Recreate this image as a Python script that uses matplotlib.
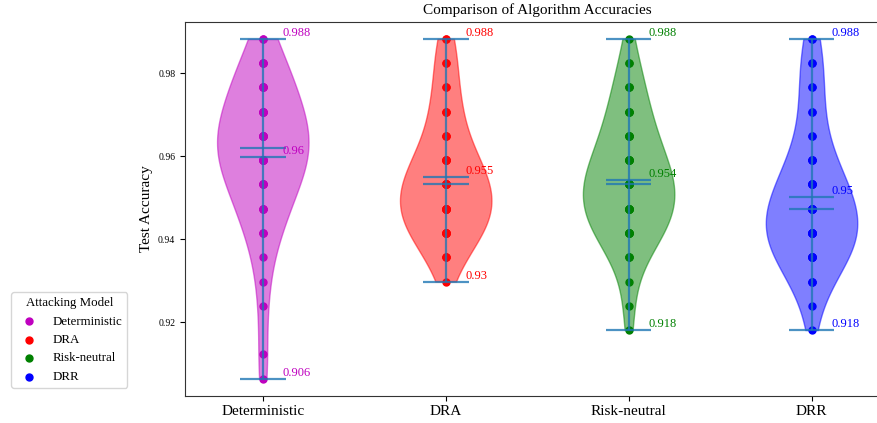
import numpy as np
import matplotlib
matplotlib.use("Agg")
import matplotlib.pyplot as plt

# ---- test set size and the correct-prediction counts that show up as dots
n_test = 171
n_correct = [155, 156, 157, 158, 159, 160, 161, 162, 163, 164, 165, 166, 167, 168, 169]

runs_det = [1, 1, 0, 1, 1, 1, 3, 4, 5, 8, 8, 6, 5, 4, 2]
runs_dra = [0, 0, 0, 0, 1, 3, 7, 9, 8, 6, 3, 3, 2, 2, 2]
runs_rn = [0, 0, 1, 1, 1, 3, 7, 9, 9, 7, 5, 4, 3, 2, 1]
runs_drr = [0, 0, 1, 1, 3, 7, 9, 8, 6, 4, 2, 2, 2, 2, 2]

models = ["Deterministic", "DRA", "Risk-neutral", "DRR"]
colors = ["m", "r", "g", "b"]

plt.rcParams["font.family"] = ["Liberation Serif", "DejaVu Serif"]

acc_levels = np.array(n_correct) / n_test
data = [np.repeat(acc_levels, r) for r in (runs_det, runs_dra, runs_rn, runs_drr)]
pos = np.arange(1, len(models) + 1)

fig = plt.figure(figsize=(8.77, 4.23), dpi=100)
ax = fig.add_axes([0.211, 0.065, 0.803, 0.883])

for p, d, c, name in zip(pos, data, colors, models):
    ax.scatter(np.full(len(d), p), d, color=c, s=25, label=name)

vp = ax.violinplot(data, positions=pos, showmeans=True, showmedians=True,
                   showextrema=True)
for body, c in zip(vp["bodies"], colors):
    body.set_facecolor(c)
    body.set_edgecolor(c)
    body.set_alpha(0.5)
for key in ["cbars", "cmins", "cmaxes", "cmeans", "cmedians"]:
    vp[key].set_color("C0")
    vp[key].set_alpha(0.8)
    vp[key].set_linewidth(1.6)

# ---- max, min and mean labels
for p, d, c in zip(pos, data, colors):
    for v in [d.max(), d.min(), d.mean()]:
        ax.text(p + 0.11, v, str(round(v, 3)), color=c, fontsize=9,
                ha="left", va="bottom")

ax.set_xticks(pos)
ax.set_xticklabels(models, fontsize=11)
ax.tick_params(axis="y", labelsize=7)
ax.set_ylabel("Test Accuracy", fontsize=11)
ax.set_title("Comparison of Algorithm Accuracies", fontsize=11)
for s in ax.spines.values():
    s.set_color("0.2")

ax.legend(title="Attacking Model", loc="lower right",
          bbox_to_anchor=(-0.082, 0.02), borderaxespad=0,
          fontsize=9.25, title_fontsize=9.25)

fig.savefig("out.png", dpi=100)
